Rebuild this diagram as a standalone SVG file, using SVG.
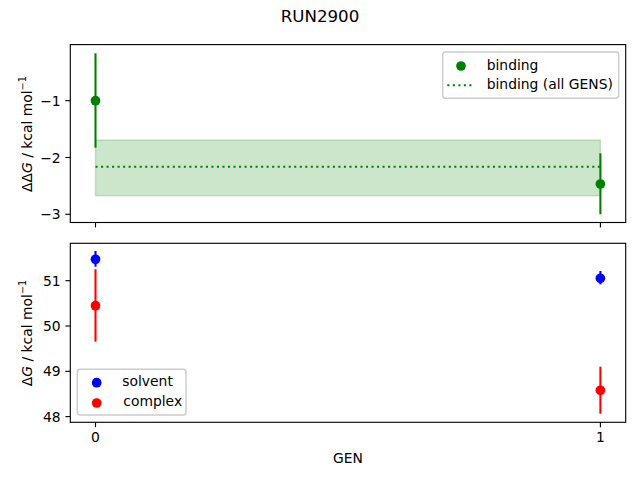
<svg xmlns="http://www.w3.org/2000/svg" width="640" height="480" viewBox="0 0 640 480">
<style>
text{font-family:"DejaVu Sans","Liberation Sans",sans-serif;fill:#000}
.tk{font-size:13.89px}
.spine{fill:none;stroke:#000;stroke-width:1.11}
.tick{stroke:#000;stroke-width:1.11}
.eg{stroke:#008000;stroke-width:2.08}
.eb{stroke:#0000ff;stroke-width:2.08}
.er{stroke:#ff0000;stroke-width:2.08}
.leg{fill:#fff;fill-opacity:0.8;stroke:#cccccc;stroke-width:1.39}
</style>
<rect width="640" height="480" fill="#fff"/>
<text x="320" y="21.7" font-size="16.67" text-anchor="middle">RUN2900</text>

<g id="top-axes">
  <rect x="95.5" y="140" width="504.9" height="55.7" fill="#008000" fill-opacity="0.2" stroke="#008000" stroke-opacity="0.2" stroke-width="1.39"/>
  <line x1="95.5" y1="166.7" x2="600.4" y2="166.7" stroke="#008000" stroke-width="2.08" stroke-dasharray="2.08 3.44"/>
  <line class="eg" x1="95.5" y1="53.3" x2="95.5" y2="147.7"/>
  <line class="eg" x1="600.4" y1="153.3" x2="600.4" y2="214.3"/>
  <circle cx="95.5" cy="100.7" r="4.85" fill="#008000"/>
  <circle cx="600.4" cy="184" r="4.85" fill="#008000"/>
  <rect class="spine" x="70.3" y="44.6" width="555.4" height="177.9"/>
  <g class="tick">
    <line x1="65.4" y1="100.7" x2="70.3" y2="100.7"/>
    <line x1="65.4" y1="157.5" x2="70.3" y2="157.5"/>
    <line x1="65.4" y1="214.3" x2="70.3" y2="214.3"/>
    <line x1="95.5" y1="222.5" x2="95.5" y2="227.4"/>
    <line x1="600.4" y1="222.5" x2="600.4" y2="227.4"/>
  </g>
  <g class="tk" text-anchor="end">
    <text x="60.6" y="105.7">−1</text>
    <text x="60.6" y="162.5">−2</text>
    <text x="60.6" y="219.3">−3</text>
  </g>
  <text class="tk" transform="translate(31.5,134) rotate(-90)" text-anchor="middle">ΔΔ<tspan font-style="italic">G</tspan> / kcal mol<tspan font-size="9.7" dy="-5.5">−1</tspan></text>
  <g id="legend-top">
    <rect class="leg" x="442.7" y="52" width="176" height="46.3" rx="2.8"/>
    <circle cx="461" cy="66" r="4.85" fill="#008000"/>
    <line x1="447.3" y1="85.3" x2="474.3" y2="85.3" stroke="#008000" stroke-width="2.08" stroke-dasharray="2.08 3.44"/>
    <text class="tk" x="486.7" y="70">binding</text>
    <text class="tk" x="486.7" y="89.3">binding (all GENS)</text>
  </g>
</g>

<g id="bottom-axes">
  <line class="eb" x1="95.5" y1="251" x2="95.5" y2="266.7"/>
  <line class="er" x1="95.5" y1="269.3" x2="95.5" y2="341.7"/>
  <line class="eb" x1="600.4" y1="271" x2="600.4" y2="284.3"/>
  <line class="er" x1="600.4" y1="366.7" x2="600.4" y2="413.7"/>
  <circle cx="95.5" cy="259.3" r="4.85" fill="#0000ff"/>
  <circle cx="600.4" cy="278.3" r="4.85" fill="#0000ff"/>
  <circle cx="95.5" cy="305.7" r="4.85" fill="#ff0000"/>
  <circle cx="600.4" cy="390.3" r="4.85" fill="#ff0000"/>
  <rect class="spine" x="70.3" y="243.3" width="555.4" height="179"/>
  <g class="tick">
    <line x1="65.4" y1="280.7" x2="70.3" y2="280.7"/>
    <line x1="65.4" y1="326" x2="70.3" y2="326"/>
    <line x1="65.4" y1="371.3" x2="70.3" y2="371.3"/>
    <line x1="65.4" y1="416.6" x2="70.3" y2="416.6"/>
    <line x1="95.5" y1="422.3" x2="95.5" y2="427.2"/>
    <line x1="600.4" y1="422.3" x2="600.4" y2="427.2"/>
  </g>
  <g class="tk" text-anchor="end">
    <text x="60.6" y="285.7">51</text>
    <text x="60.6" y="331">50</text>
    <text x="60.6" y="376.3">49</text>
    <text x="60.6" y="421.6">48</text>
  </g>
  <g class="tk" text-anchor="middle">
    <text x="95.5" y="441.7">0</text>
    <text x="600.4" y="441.7">1</text>
  </g>
  <text class="tk" x="348" y="463.3" text-anchor="middle">GEN</text>
  <text class="tk" transform="translate(31.5,333) rotate(-90)" text-anchor="middle">Δ<tspan font-style="italic">G</tspan> / kcal mol<tspan font-size="9.7" dy="-5.5">−1</tspan></text>
  <g id="legend-bottom">
    <rect class="leg" x="77.3" y="369.3" width="108.7" height="45.7" rx="2.8"/>
    <circle cx="96.7" cy="382.7" r="4.85" fill="#0000ff"/>
    <circle cx="96.7" cy="403" r="4.85" fill="#ff0000"/>
    <text class="tk" x="122.3" y="385.8">solvent</text>
    <text class="tk" x="123.3" y="406">complex</text>
  </g>
</g>
</svg>
